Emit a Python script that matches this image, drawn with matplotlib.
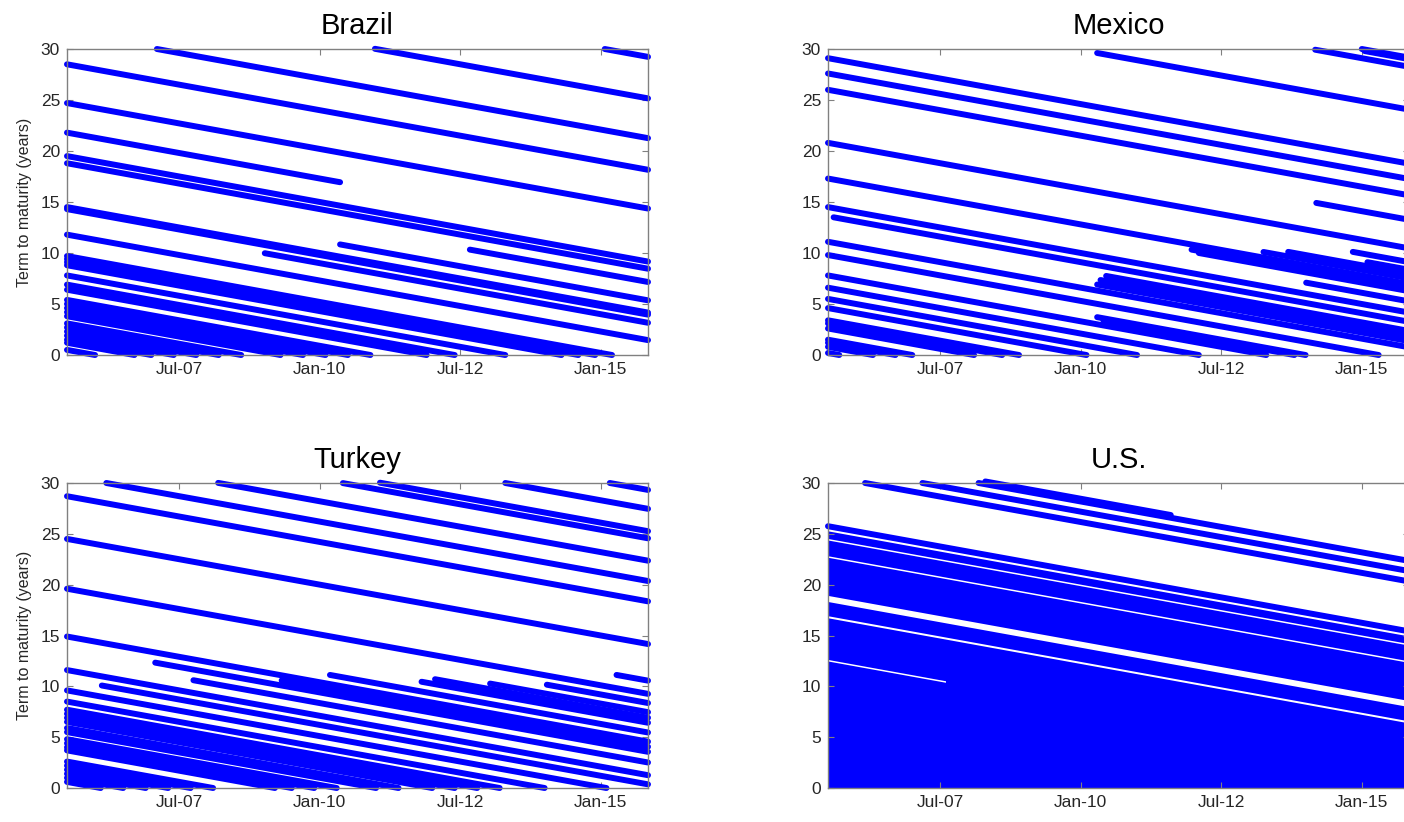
import matplotlib
matplotlib.use('Agg')
import matplotlib.pyplot as plt

plt.rcParams['font.family'] = ['Liberation Sans', 'DejaVu Sans']

# sample window in decimal years
T0, T1 = 2005.5, 2015.84

tick_pos = [2007.5, 2010.0, 2012.5, 2015.0]
tick_lab = ['Jul-07', 'Jan-10', 'Jul-12', 'Jan-15']

# bonds: (first date observed, maturity date[, last date observed])
brazil_bonds = [
    (2005.5, 2034.0), (2005.5, 2030.2), (2005.5, 2027.3, 2010.36),
    (2005.5, 2025.0), (2005.5, 2024.3), (2005.5, 2020.0), (2005.5, 2019.8),
    (2005.5, 2017.3),
    (2007.1, 2037.1), (2010.98, 2041.0), (2015.07, 2045.07),
    (2010.36, 2021.2), (2009.02, 2019.0), (2012.67, 2023.0),
    (2005.5, 2015.2), (2005.5, 2014.9), (2005.5, 2014.6), (2005.5, 2014.3),
    (2005.5, 2013.3), (2005.5, 2012.4), (2005.5, 2011.9), (2005.5, 2010.9),
    (2005.5, 2010.5), (2005.5, 2010.1), (2005.5, 2009.7), (2005.5, 2009.3),
    (2005.5, 2008.6), (2005.5, 2008.2), (2005.5, 2007.8), (2005.5, 2007.4),
    (2005.5, 2007.0), (2005.5, 2006.7), (2005.5, 2006.0),
]

mexico_bonds = [
    (2005.5, 2034.6), (2005.5, 2033.1), (2005.5, 2031.5), (2005.5, 2026.3),
    (2005.5, 2022.8), (2005.5, 2020.0), (2005.6, 2019.1), (2005.5, 2016.6),
    (2005.5, 2015.3), (2005.5, 2013.3), (2005.5, 2012.1), (2005.5, 2011.0),
    (2005.5, 2010.1), (2005.5, 2008.9), (2005.5, 2008.6), (2005.5, 2008.1),
    (2005.5, 2007.0), (2005.5, 2006.7), (2005.5, 2006.3), (2005.5, 2005.7),
    (2010.29, 2039.9), (2014.17, 2044.1), (2015.0, 2045.0), (2015.05, 2044.85),
    (2014.19, 2029.1),
    (2011.97, 2022.3), (2012.1, 2022.1), (2013.25, 2023.35), (2013.69, 2023.8),
    (2014.84, 2024.95), (2015.1, 2024.2), (2014.01, 2021.1),
    (2010.29, 2017.2), (2010.35, 2017.7), (2010.45, 2018.2),
    (2010.29, 2014.0), (2010.4, 2013.8),
]

turkey_bonds = [
    (2005.5, 2034.2), (2005.5, 2030.0), (2005.5, 2025.1), (2005.5, 2020.4),
    (2005.5, 2017.1), (2005.5, 2015.1), (2005.5, 2014.0),
    (2005.5, 2013.2), (2005.5, 2012.8), (2005.5, 2012.4), (2005.5, 2012.0),
    (2005.5, 2011.4), (2005.5, 2011.0), (2005.5, 2010.3), (2005.5, 2009.9),
    (2005.5, 2009.5), (2005.5, 2009.2),
    (2005.5, 2008.1), (2005.5, 2007.7), (2005.5, 2007.3), (2005.5, 2006.9),
    (2005.5, 2006.5), (2005.5, 2006.1),
    (2006.2, 2036.2), (2008.19, 2038.2), (2010.41, 2040.4), (2011.07, 2041.1),
    (2013.3, 2043.3), (2015.16, 2045.16),
    (2006.12, 2016.2), (2007.07, 2019.4), (2007.75, 2018.35), (2009.32, 2019.9),
    (2010.18, 2021.3), (2011.81, 2022.26), (2012.05, 2022.75), (2013.03, 2023.3),
    (2014.04, 2024.2), (2015.28, 2026.4),
]

us_bonds = [
    (2006.16, 2036.16), (2007.18, 2037.18), (2008.18, 2038.18),
    (2008.3, 2038.45, 2011.6),
    (2005.5, 2031.25),
]

# U.S. outstanding stock is so dense it is drawn as maturity blocks:
# (first date observed, lowest maturity, highest maturity)
us_blocks = [
    (2005.5, 2005.0, 2017.95),
    (2007.6, 2017.85, 2018.2),
    (2005.5, 2018.1, 2022.2),
    (2005.5, 2022.4, 2023.8),
    (2005.5, 2024.4, 2028.15),
    (2005.5, 2028.3, 2029.85),
    (2005.5, 2030.0, 2030.75),
]

BLUE = '#0000ff'
GREY = '#808080'


def draw_bonds(ax, bonds):
    for b in bonds:
        first, mat = b[0], b[1]
        last = b[2] if len(b) > 2 else min(mat, T1)
        # term to maturity shrinks one year per year
        ax.plot([first, last], [mat - first, mat - last], color=BLUE,
                lw=4.3, solid_capstyle='round', clip_on=False, zorder=2)


def draw_blocks(ax, blocks):
    for first, lo, hi in blocks:
        xs = [first, T1, T1, first]
        ys = [lo - first, lo - T1, hi - T1, hi - first]
        ax.fill(xs, ys, color=BLUE, lw=0, zorder=1, antialiased=True)


def style(ax, title, ylab):
    ax.set_xlim(T0, T1)
    ax.set_ylim(0, 30)
    ax.set_xticks(tick_pos)
    ax.set_xticklabels(tick_lab)
    ax.set_yticks(range(0, 31, 5))
    ax.tick_params(direction='in', length=4, width=0.8, colors=GREY,
                   labelcolor='#262626', labelsize=12.5, top=True, right=True,
                   pad=5)
    for s in ax.spines.values():
        s.set_color(GREY)
        s.set_linewidth(1.0)
    ax.set_title(title, fontsize=21, pad=11)
    if ylab:
        ax.set_ylabel('Term to maturity (years)', fontsize=11.5,
                      color='#262626', labelpad=6)


fig = plt.figure(figsize=(14.04, 8.22), dpi=100)
W, H = 1404.0, 822.0
ax_br = fig.add_axes([67 / W, 1 - 355 / H, 581 / W, 306 / H])
ax_mx = fig.add_axes([828 / W, 1 - 355 / H, 581 / W, 306 / H])
ax_tr = fig.add_axes([67 / W, 1 - 788 / H, 581 / W, 305 / H])
ax_us = fig.add_axes([828 / W, 1 - 788 / H, 581 / W, 305 / H])

draw_bonds(ax_br, brazil_bonds)
draw_bonds(ax_mx, mexico_bonds)
draw_bonds(ax_tr, turkey_bonds)
draw_blocks(ax_us, us_blocks)
draw_bonds(ax_us, us_bonds)

style(ax_br, 'Brazil', True)
style(ax_mx, 'Mexico', False)
style(ax_tr, 'Turkey', True)
style(ax_us, 'U.S.', False)

fig.savefig('out.png', dpi=100)
